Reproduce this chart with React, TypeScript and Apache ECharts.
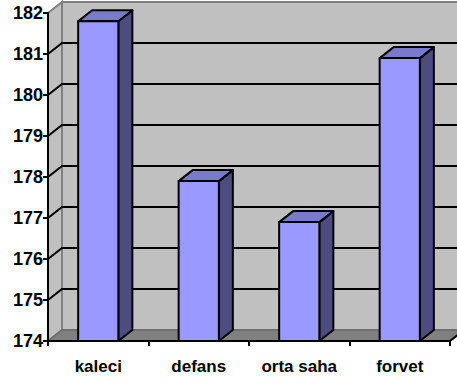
import React, { useEffect, useRef } from "react";
import * as echarts from "echarts";

const categories = ["kaleci", "defans", "orta saha", "forvet"];
const heights = [181.8, 177.9, 176.9, 180.9];
const yTicks = [174, 175, 176, 177, 178, 179, 180, 181, 182];

const Y_MIN = 174;
const Y_MAX = 182;
// oblique offset of the back wall relative to the front plane
const DX = 14;
const DY = -11;

const FONT = "'Liberation Sans', Arial, sans-serif";

export default function App() {
  const ref = useRef<HTMLDivElement>(null);

  useEffect(() => {
    if (!ref.current) return;
    const chart = echarts.init(ref.current, null, { renderer: "svg" });

    // walls, floor and gridlines of the 3D box
    const renderWalls = (params: any, api: any) => {
      const cs = params.coordSys;
      const x0 = cs.x;
      const x1 = cs.x + cs.width;
      const yTop = api.coord([0, Y_MAX])[1];
      const yBot = api.coord([0, Y_MIN])[1];
      const children: any[] = [];
      // back wall
      children.push({
        type: "polygon",
        shape: {
          points: [
            [x0 + DX, yTop + DY],
            [x1 + DX + 20, yTop + DY],
            [x1 + DX + 20, yBot + DY],
            [x0 + DX, yBot + DY],
          ],
        },
        style: { fill: "#c0c0c0", stroke: "#808080", lineWidth: 2 },
      });
      // left side wall
      children.push({
        type: "polygon",
        shape: {
          points: [
            [x0, yTop],
            [x0 + DX, yTop + DY],
            [x0 + DX, yBot + DY],
            [x0, yBot],
          ],
        },
        style: { fill: "#c0c0c0", stroke: "#808080", lineWidth: 2 },
      });
      // floor
      children.push({
        type: "polygon",
        shape: {
          points: [
            [x0, yBot],
            [x0 + DX, yBot + DY],
            [x1 + DX, yBot + DY],
            [x1, yBot],
          ],
        },
        style: { fill: "#808080", stroke: "#6a6a6a", lineWidth: 1.5 },
      });
      // gridlines: diagonal on the side wall, horizontal on the back wall
      yTicks.forEach((v) => {
        if (v === Y_MIN || v === Y_MAX) return;
        const y = api.coord([0, v])[1];
        children.push({
          type: "polyline",
          shape: {
            points: [
              [x0, y],
              [x0 + DX, y + DY],
              [x1 + DX + 20, y + DY],
            ],
          },
          style: { fill: null, stroke: "#000", lineWidth: 2 },
        });
      });
      // right edge of the floor
      children.push({
        type: "line",
        shape: { x1: x1, y1: yBot, x2: x1 + DX, y2: yBot + DY },
        style: { stroke: "#000", lineWidth: 2 },
      });
      return { type: "group", children };
    };

    // one 3D column per category
    const renderBar = (params: any, api: any) => {
      const idx = api.value(0);
      const val = api.value(1);
      const base = api.coord([idx, Y_MIN]);
      const top = api.coord([idx, val]);
      const w = api.size([1, 0])[0] * 0.4;
      const l = base[0] - w / 2;
      const r = base[0] + w / 2;
      const yb = base[1];
      const yt = top[1];
      const line = { stroke: "#000", lineWidth: 2, lineJoin: "round" };
      return {
        type: "group",
        children: [
          {
            type: "polygon",
            shape: {
              points: [
                [r, yt],
                [r + DX, yt + DY],
                [r + DX, yb + DY],
                [r, yb],
              ],
            },
            style: { fill: "#4c4c80", ...line },
          },
          {
            type: "polygon",
            shape: {
              points: [
                [l, yt],
                [l + DX, yt + DY],
                [r + DX, yt + DY],
                [r, yt],
              ],
            },
            style: { fill: "#7a7acc", ...line },
          },
          {
            type: "rect",
            shape: { x: l, y: yt, width: w, height: yb - yt },
            style: { fill: "#9999ff", ...line },
          },
        ],
      };
    };

    chart.setOption({
      animation: false,
      backgroundColor: "#ffffff",
      grid: { left: 48, right: 7, top: 13, bottom: 41 },
      xAxis: {
        type: "category",
        data: categories,
        z: 10,
        axisLine: { lineStyle: { color: "#000", width: 2 } },
        axisTick: { show: true, length: 5, lineStyle: { color: "#000", width: 2 } },
        axisLabel: {
          interval: 0,
          color: "#000",
          fontFamily: FONT,
          fontWeight: "bold",
          fontSize: 17,
          margin: 17,
        },
        splitLine: { show: false },
      },
      yAxis: {
        type: "value",
        min: Y_MIN,
        max: Y_MAX,
        interval: 1,
        z: 10,
        axisLine: { show: true, lineStyle: { color: "#000", width: 2 } },
        axisTick: { show: true, length: 5, lineStyle: { color: "#000", width: 2 } },
        axisLabel: {
          color: "#000",
          fontFamily: FONT,
          fontWeight: "bold",
          fontSize: 18,
          margin: 5,
        },
        splitLine: { show: false },
      },
      series: [
        {
          type: "custom",
          z: 1,
          renderItem: renderWalls,
          data: [[0, Y_MIN]],
          silent: true,
        },
        {
          type: "custom",
          z: 2,
          renderItem: renderBar,
          data: heights.map((h, i) => [i, h]),
        },
      ],
    });

    return () => chart.dispose();
  }, []);

  return (
    <div
      ref={ref}
      style={{ position: "absolute", left: 0, top: 0, width: 457, height: 382 }}
    />
  );
}
